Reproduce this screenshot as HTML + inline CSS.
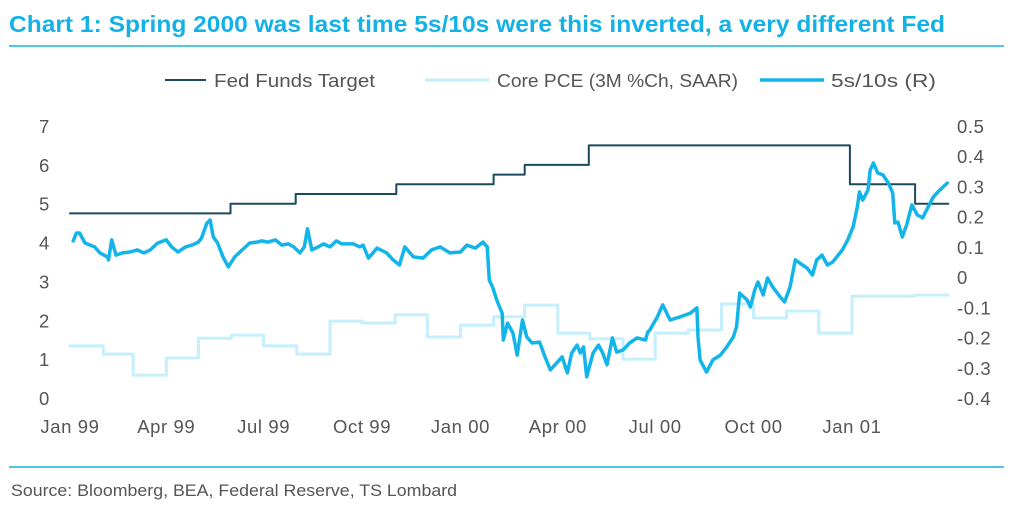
<!DOCTYPE html>
<html><head><meta charset="utf-8"><style>
body{margin:0;background:#fff;width:1016px;height:512px;overflow:hidden;font-family:"Liberation Sans",sans-serif}
svg text{font-family:"Liberation Sans",sans-serif}
</style></head><body>
<svg id="chart" width="1016" height="512" xmlns="http://www.w3.org/2000/svg">
<text x="9" y="32" font-size="23" font-weight="bold" fill="#14b1e7" textLength="936" lengthAdjust="spacingAndGlyphs">Chart 1: Spring 2000 was last time 5s/10s were this inverted, a very different Fed</text>
<line x1="9" y1="46" x2="1004" y2="46" stroke="#14b1e7" stroke-width="1.5"/>
<g font-size="18.5" fill="#555">
<g><line x1="165" y1="80" x2="206" y2="80" stroke="#1b4a5e" stroke-width="2"/><text x="214" y="87" textLength="161" lengthAdjust="spacingAndGlyphs">Fed Funds Target</text></g>
<g><line x1="425" y1="80" x2="489" y2="80" stroke="#c5effc" stroke-width="3"/><text x="497" y="87" textLength="241" lengthAdjust="spacingAndGlyphs">Core PCE (3M %Ch, SAAR)</text></g>
<g><line x1="760" y1="80" x2="824" y2="80" stroke="#12b5ea" stroke-width="3.5"/><text x="831" y="87" textLength="105" lengthAdjust="spacingAndGlyphs">5s/10s (R)</text></g>
</g>
<g id="axes"></g>
<g id="marks"></g>
<line x1="9" y1="467" x2="1004" y2="467" stroke="#14b1e7" stroke-width="1.5"/>
<text x="11" y="496" font-size="17" fill="#555" textLength="446" lengthAdjust="spacingAndGlyphs">Source: Bloomberg, BEA, Federal Reserve, TS Lombard</text>
</svg>
<script>
const leftTicks=[0,1,2,3,4,5,6,7];
const rightTicks=[-0.4,-0.3,-0.2,-0.1,0,0.1,0.2,0.3,0.4,0.5];
const rightTickLabels=["-0.4","-0.3","-0.2","-0.1","0","0.1","0.2","0.3","0.4","0.5"];
const xTickLabels=["Jan 99","Apr 99","Jul 99","Oct 99","Jan 00","Apr 00","Jul 00","Oct 00","Jan 01"];
const xTickDays=[0,90,181,273,365,456,547,639,731];
const fedDays=[0,150,211,305,396,425,485,729,790];
const fedRates=[4.75,5.0,5.25,5.5,5.75,6.0,6.5,5.5,5.0];
const endDay=821;
const pceValues=[1.34,1.13,0.59,1.03,1.54,1.62,1.34,1.13,1.98,1.93,2.14,1.57,1.87,2.09,2.39,1.67,1.52,1.0,1.67,1.75,2.42,2.06,2.24,1.67,2.62,2.62,2.65];
const curveDays=[3,6,9,14,19,23,28,35,36,39,43,49,56,63,69,75,82,90,95,101,108,114,120,123,128,131,134,138,143,148,154,161,168,175,179,185,192,198,204,209,215,219,222,226,232,237,243,249,254,260,265,271,274,279,287,296,302,308,313,321,330,338,346,355,365,371,379,386,390,392,395,399,404,405,409,414,418,423,427,432,439,444,449,455,460,465,469,474,477,480,483,489,494,498,502,507,511,517,523,530,538,540,542,549,554,561,570,580,586,587,589,595,601,608,614,620,623,626,633,636,640,643,648,652,657,664,668,673,678,682,689,694,698,703,708,713,722,727,732,736,738,741,746,748,751,755,760,765,769,771,774,778,782,787,792,797,804,807,813,820];
const curveValues=[0.12,0.146,0.146,0.113,0.106,0.10,0.08,0.067,0.057,0.123,0.073,0.08,0.083,0.09,0.08,0.09,0.113,0.123,0.10,0.083,0.10,0.106,0.116,0.13,0.179,0.189,0.133,0.113,0.067,0.034,0.067,0.09,0.113,0.116,0.12,0.116,0.123,0.106,0.11,0.10,0.08,0.10,0.16,0.09,0.10,0.11,0.10,0.12,0.11,0.11,0.11,0.10,0.106,0.063,0.096,0.08,0.057,0.04,0.10,0.067,0.063,0.09,0.10,0.08,0.083,0.106,0.096,0.116,0.10,-0.01,-0.033,-0.076,-0.12,-0.208,-0.152,-0.185,-0.258,-0.142,-0.198,-0.218,-0.215,-0.264,-0.307,-0.284,-0.264,-0.317,-0.251,-0.225,-0.251,-0.231,-0.33,-0.251,-0.225,-0.251,-0.29,-0.201,-0.248,-0.241,-0.218,-0.201,-0.208,-0.182,-0.175,-0.132,-0.092,-0.142,-0.132,-0.119,-0.102,-0.198,-0.274,-0.314,-0.274,-0.258,-0.231,-0.198,-0.165,-0.053,-0.076,-0.099,-0.043,-0.016,-0.059,-0.003,-0.033,-0.066,-0.082,-0.033,0.057,0.047,0.03,0.007,0.057,0.073,0.04,0.05,0.09,0.123,0.166,0.232,0.282,0.255,0.288,0.354,0.378,0.345,0.338,0.311,0.278,0.179,0.182,0.133,0.172,0.239,0.206,0.196,0.245,0.265,0.288,0.311];

const NS="http://www.w3.org/2000/svg";
const X0=70,PXD=782/731;
function xs(d){return X0+d*PXD;}
function yl(v){return 398-v*38.857;}
function yr(v){return 398-(v+0.4)*302.2;}
function monthDay(i){return Math.round((Date.UTC(1999,i,1)-Date.UTC(1999,0,1))/86400000);}
const axes=document.getElementById('axes'),marks=document.getElementById('marks');
function txt(parent,x,y,s,anchor){const t=document.createElementNS(NS,'text');t.setAttribute('x',x);t.setAttribute('y',y);t.setAttribute('font-size','18.5');t.setAttribute('fill','#555');t.setAttribute('text-anchor',anchor);t.setAttribute('letter-spacing','0.6');t.textContent=s;parent.appendChild(t);return t;}
leftTicks.forEach(v=>{const t=txt(axes,39,yl(v)+7,String(v),'start');

});
rightTicks.forEach((v,i)=>{const t=txt(axes,957,yr(v)+7,rightTickLabels[i],'start');

});
xTickLabels.forEach((s,i)=>{const t=txt(axes,xs(xTickDays[i]),433,s,'middle');

});
function path(d,stroke,w,name){const p=document.createElementNS(NS,'path');p.setAttribute('d',d);p.setAttribute('fill','none');p.setAttribute('stroke',stroke);p.setAttribute('stroke-width',w);p.setAttribute('stroke-linejoin','round');p.setAttribute('stroke-linecap','round');


marks.appendChild(p);}
let d='';pceValues.forEach((v,i)=>{const a=xs(monthDay(i)),b=xs(monthDay(i+1));d+=(i?'L':'M')+a.toFixed(1)+','+yl(v).toFixed(1)+'L'+b.toFixed(1)+','+yl(v).toFixed(1);});
path(d,'#c5effc',3,'core-pce-line');
d='';fedRates.forEach((v,i)=>{const a=xs(fedDays[i]),b=xs(i+1<fedDays.length?fedDays[i+1]:endDay);d+=(i?'L':'M')+a.toFixed(1)+','+yl(v).toFixed(1)+'L'+b.toFixed(1)+','+yl(v).toFixed(1);});
path(d,'#1b4a5e',2,'fed-funds-line');
d='';curveDays.forEach((dd,i)=>{d+=(i?'L':'M')+xs(dd).toFixed(1)+','+yr(curveValues[i]).toFixed(1);});
path(d,'#12b5ea',3.5,'5s10s-line');
</script>
</body></html>
